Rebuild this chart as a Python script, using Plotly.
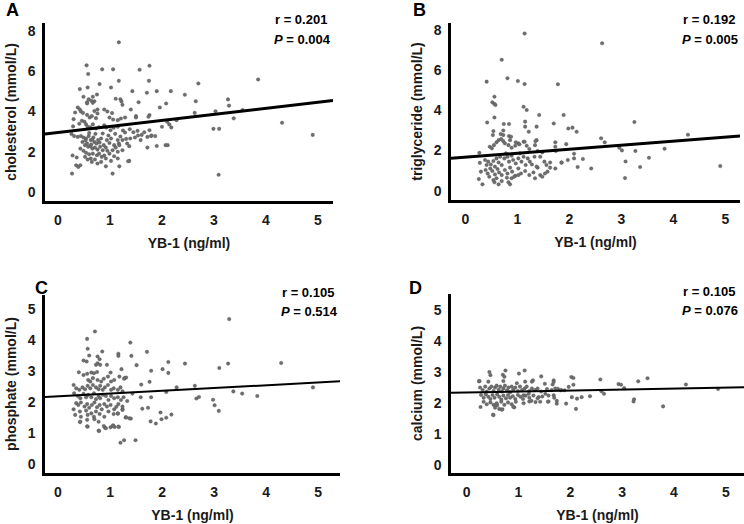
import plotly.graph_objects as go

# ---------------- data ----------------
cholesterol_pts = [
    (1.17,7.42),(0.55,6.28),(0.85,6.08),(1.06,6.08),(1.57,6.06),(1.76,6.26),(0.58,5.85),(1.17,5.51),(0.80,5.35),(1.75,5.51),
    (0.42,5.10),(0.57,5.18),(1.02,5.18),(1.43,5.00),(1.71,4.92),(1.90,5.00),(2.17,5.00),(2.70,5.38),(3.85,5.58),(2.44,4.82),
    (0.49,4.72),(0.67,4.72),(0.75,4.83),(0.56,4.45),(0.59,4.60),(0.64,4.52),(0.67,4.42),(0.56,4.39),(0.70,4.50),(1.11,4.62),
    (1.20,4.60),(1.22,4.49),(1.24,4.32),(1.55,4.45),(2.08,4.39),(2.65,4.50),(3.27,4.59),(3.29,4.28),
    (0.38,4.19),(0.42,4.09),(0.33,3.94),(0.89,4.09),(0.95,3.99),(1.04,3.91),(1.40,4.09),(1.96,4.19),(2.63,3.92),(3.03,4.00),
    (3.55,4.06),(3.38,3.65),(1.50,3.76),(1.76,3.81),
    (0.44,3.99),(0.48,3.92),(0.70,4.01),(0.76,4.09),(0.56,3.82),(0.61,3.69),(0.65,3.76),(0.73,3.66),(0.76,3.89),(0.30,3.61),
    (0.99,3.69),(1.06,3.59),(1.15,3.56),(1.21,3.64),(1.29,3.69),(1.50,3.69),(1.74,3.73),(2.10,3.48),(2.14,3.35),(2.18,3.20),
    (2.28,3.56),(2.00,3.23),(2.99,3.13),(3.10,3.13),(4.31,3.43),(4.90,2.83),
    (0.29,3.25),(0.41,3.38),(0.46,3.53),(0.51,3.48),(0.54,3.35),(0.57,3.23),(0.62,3.21),(0.67,3.35),(0.73,3.15),(0.79,3.21),
    (0.89,3.31),(0.93,3.20),(1.01,3.06),(1.07,3.18),(1.15,3.23),(1.25,3.05),(1.29,2.95),(1.38,3.11),(1.45,2.96),(1.53,3.03),
    (1.61,2.83),(1.66,2.96),(1.76,3.06),(1.79,2.77),(1.87,2.77),
    (0.26,2.87),(0.31,2.77),(0.38,2.73),(0.44,2.77),(0.49,2.70),(0.54,2.65),(0.59,2.77),(0.63,2.57),(0.68,2.70),(0.70,2.48),
    (0.74,2.40),(0.77,2.57),(0.83,2.65),(0.88,2.32),(0.94,2.57),(0.99,2.43),(1.02,2.65),(1.08,2.32),(1.15,2.57),(1.17,2.40),
    (1.24,2.57),(1.31,2.63),(1.33,2.40),(1.39,2.65),(1.48,2.70),(1.59,2.57),(1.72,2.73),
    (0.47,2.48),(0.52,2.32),(0.56,2.40),(0.58,2.24),(0.62,2.27),(0.66,2.15),(0.71,2.20),(0.76,2.10),(0.81,2.24),(0.86,2.07),
    (0.92,2.20),(0.95,2.04),(1.05,2.07),(1.11,2.20),(1.18,2.32),(1.24,2.07),(1.37,2.27),
    (0.43,2.15),(0.49,2.04),(0.54,1.94),(0.60,1.87),(0.67,1.90),(0.75,1.82),(0.79,1.90),(0.84,1.74),(0.89,1.81),(0.99,1.90),
    (1.08,1.77),(1.15,1.99),
    (0.63,1.66),(0.71,1.61),(0.83,1.49),(0.92,1.66),(1.02,1.54),(1.15,1.66),(1.37,1.54),
    (0.28,1.81),(0.36,1.71),(0.52,1.74),(0.57,1.61),(0.65,1.49),(0.76,1.41),
    (0.35,1.32),(0.39,1.24),(0.43,1.32),(0.92,1.27),(1.18,1.27),
    (0.27,0.91),(1.05,0.91),(3.09,0.85),
    (1.54,2.80),(1.72,2.20),(1.80,2.80),(1.90,2.28),(2.07,2.32),(2.11,2.32),(1.35,1.52),
    (0.60,2.92),(0.66,2.60),(0.72,2.88),(0.80,2.45),(0.86,2.90),(0.97,2.80),(1.10,2.88),(1.20,2.75),(0.53,2.55),(0.64,2.35),
]

triglyceride_pts = [
    (1.14,7.83),(2.63,7.34),(0.70,6.52),(0.41,5.43),(0.81,5.60),(1.01,5.46),(1.14,5.31),(1.78,5.30),
    (0.56,4.68),(0.52,4.40),(0.56,4.32),(0.58,4.27),(1.12,4.18),(1.18,4.02),
    (0.56,3.65),(1.42,3.77),(1.89,3.77),(0.42,3.40),(0.74,3.32),(0.84,3.32),(1.15,3.44),(1.70,3.35),(3.25,3.42),
    (0.54,2.97),(0.73,3.00),(1.15,3.19),(1.37,3.19),(1.22,2.94),(1.98,3.10),(2.06,3.14),(2.14,2.94),
    (0.68,2.82),(0.73,2.77),(0.84,2.72),(0.88,2.69),(0.53,2.77),(2.61,2.61),(2.68,2.41),(4.28,2.79),
    (1.02,2.36),(1.12,2.44),(1.37,2.52),(1.73,2.41),(1.94,2.32),(2.96,2.14),(3.01,2.01),(3.27,1.98),(3.83,2.09),(3.53,1.64),
    (2.09,1.84),(1.85,1.40),(1.97,1.53),(2.09,1.61),(2.26,1.58),(2.16,1.18),(2.42,1.11),(3.08,1.46),(3.36,1.18),(3.07,0.63),
    (4.90,1.23),
    (0.27,1.89),(0.47,2.19),(0.51,2.11),(0.55,2.27),(0.60,2.41),(0.64,2.52),(0.69,2.57),(0.73,2.47),(0.76,2.36),(0.86,2.52),
    (0.83,2.27),(0.89,2.14),(0.96,2.24),(0.97,2.41),(1.04,2.31),(1.14,2.44),(1.18,2.24),(1.23,2.08),(1.34,2.27),(1.35,2.47),
    (1.39,1.98),(1.48,1.91),(1.73,2.19),(1.74,1.98),
    (0.28,1.39),(0.30,0.95),(0.26,0.58),(0.33,0.32),
    (0.38,1.53),(0.41,1.28),(0.44,1.45),(0.49,1.31),(0.54,1.48),(0.57,1.20),(0.60,1.61),(0.64,1.41),(0.67,1.69),(0.70,1.28),
    (0.75,1.61),(0.78,1.86),(0.81,1.69),(0.84,1.45),(0.89,1.74),(0.92,1.53),(0.97,1.36),(1.02,1.61),(1.05,1.86),(1.08,1.45),
    (1.12,1.69),(1.16,1.28),(1.20,1.61),(1.24,1.45),(1.28,1.31),(1.33,1.69),(1.39,1.15),(1.44,1.69),(1.52,1.45),(1.56,1.28),
    (1.63,1.41),(1.73,1.11),(1.85,1.41),
    (0.39,1.03),(0.43,0.86),(0.48,1.11),(0.52,0.98),(0.57,0.81),(0.62,1.08),(0.65,0.91),(0.70,0.78),(0.76,1.03),(0.81,0.86),
    (0.86,1.15),(0.90,0.95),(0.96,0.75),(1.02,1.11),(1.07,0.86),(1.15,0.98),(1.23,0.78),(1.31,0.91),(1.37,1.20),(1.44,0.78),
    (1.53,0.86),(1.58,0.95),(1.63,1.15),
    (0.46,0.70),(0.54,0.53),(0.60,0.62),(0.70,0.48),(0.80,0.65),(0.89,0.62),(0.94,0.70),(1.02,0.78),(1.34,0.62),(1.48,0.70),
    (0.56,0.42),(0.64,0.32),(0.83,0.42),(0.86,0.32),
]

phosphate_pts = [
    (3.29,4.68),(0.71,4.28),(0.56,4.04),(1.39,3.92),(0.57,3.72),(1.71,3.62),(0.85,3.63),(1.16,3.56),(1.16,3.49),(1.41,3.49),
    (0.60,3.50),(0.76,3.47),(0.80,3.38),(0.49,3.34),(0.55,3.31),
    (2.12,3.29),(2.44,3.24),(3.27,3.24),(4.29,3.26),(1.51,3.19),(0.73,3.20),(0.76,3.25),(0.81,3.20),(0.94,3.20),(1.22,3.06),
    (3.10,3.10),(2.01,3.06),(1.79,3.01),(2.12,2.94),
    (0.40,2.96),(0.49,2.87),(0.56,2.91),(0.64,2.95),(0.69,2.93),(0.75,2.97),(0.67,2.77),(0.58,2.71),(0.62,2.66),(0.76,2.71),
    (0.83,2.66),(0.88,2.75),(0.96,2.82),(1.01,2.95),(1.02,2.66),(1.08,2.71),(1.18,2.82),(1.28,2.77),(1.31,2.79),(1.27,2.75),
    (1.60,2.56),(1.76,2.65),(2.63,2.52),(2.28,2.47),(1.43,2.27),(2.08,2.32),(3.37,2.34),(3.54,2.27),(3.83,2.19),(4.90,2.47),
    (2.66,2.11),(2.71,2.16),(2.98,2.07),(3.01,1.89),(3.09,1.71),(1.59,2.15),(1.79,2.15),(1.33,2.03),(1.62,1.78),(1.73,1.81),
    (1.97,1.66),(1.99,1.44),(2.08,1.49),(2.18,1.59),(1.78,1.37),(1.88,1.30),(1.40,1.46),(1.30,1.50),(1.15,1.62),(1.12,1.84),
    (1.24,1.76),(1.06,1.24),(1.09,1.19),(1.17,1.19),(0.90,1.17),(0.79,1.06),(0.56,1.21),(0.42,1.35),(1.20,0.68),(1.27,0.76),
    (1.49,0.76),
    (0.30,2.55),(0.35,2.44),(0.41,2.39),(0.47,2.47),(0.52,2.41),(0.57,2.52),(0.62,2.44),(0.67,2.55),(0.73,2.47),(0.78,2.41),
    (0.81,2.52),(0.86,2.39),(0.90,2.47),(0.96,2.55),(1.02,2.39),(1.07,2.44),(1.15,2.39),(1.20,2.47),(1.24,2.34),
    (0.31,2.28),(0.38,2.19),(0.43,2.12),(0.49,2.26),(0.54,2.15),(0.58,2.23),(0.64,2.15),(0.69,2.28),(0.73,2.09),(0.78,2.19),
    (0.81,2.12),(0.86,2.23),(0.92,2.19),(0.97,2.06),(1.02,2.19),(1.08,2.12),(1.15,2.15),(1.21,2.06),(1.26,2.15),
    (0.35,1.96),(0.39,1.90),(0.44,1.98),(0.51,1.85),(0.56,1.93),(0.60,1.81),(0.65,1.90),(0.70,1.98),(0.75,1.83),(0.80,1.90),
    (0.84,1.76),(0.89,1.93),(0.94,1.85),(1.01,1.90),(1.08,1.76),(1.16,1.93),(1.24,1.85),
    (0.30,1.76),(0.42,1.69),(0.54,1.72),(0.57,1.58),(0.64,1.63),(0.69,1.52),(0.73,1.69),(0.80,1.61),(0.89,1.52),(0.97,1.69),
    (1.07,1.61),(1.15,1.63),(1.24,1.74),(1.31,1.50),(1.37,1.47),
    (0.33,1.58),(0.44,1.52),(0.56,1.42),(0.70,1.44),(0.78,1.36),(0.88,1.22),(1.01,1.18),(1.16,1.20),(0.57,1.20),(0.43,1.36),
    (0.78,1.07),(0.92,1.15),(1.05,1.22),
]

calcium_pts = [
    (0.24,2.71),(0.27,1.88),(0.44,3.01),(0.51,1.63),(0.70,2.92),(0.75,3.06),(1.01,2.96),(1.12,3.06),(1.28,2.74),(1.44,2.87),
    (1.51,2.63),(1.68,2.74),(1.68,2.69),(2.02,2.85),(2.06,2.82),(2.06,2.60),(1.97,2.53),(1.76,2.47),(1.82,2.42),(1.89,2.42),
    (1.52,2.31),(1.68,2.26),(1.58,2.06),(1.74,1.99),(1.92,1.99),(2.03,2.20),(2.13,2.15),(2.22,2.20),(2.38,2.23),(2.11,1.82),
    (2.58,2.77),(2.60,2.39),(2.65,2.31),(2.93,2.62),(2.98,2.60),(3.04,2.49),(3.22,2.06),(3.23,2.13),(3.31,2.71),(3.49,2.81),
    (3.79,1.90),(4.23,2.61),(4.85,2.46),(1.39,2.20),(1.33,2.04),(1.21,2.06),(1.10,2.26),(0.92,1.87),(0.69,1.81),(0.59,1.94),
    (1.20,2.31),
    (0.46,2.91),(0.25,2.72),(0.42,2.70),(0.73,2.86),(0.71,2.72),(0.97,2.65),(1.13,2.70),(1.26,2.70),(1.66,2.61),
    (0.26,2.51),(0.31,2.43),(0.36,2.54),(0.39,2.38),(0.44,2.48),(0.48,2.54),(0.52,2.40),(0.55,2.51),(0.58,2.57),(0.62,2.44),
    (0.65,2.54),(0.68,2.38),(0.71,2.48),(0.74,2.57),(0.78,2.42),(0.81,2.51),(0.84,2.36),(0.87,2.54),(0.90,2.44),(0.94,2.51),
    (0.99,2.40),(1.03,2.54),(1.07,2.43),(1.12,2.48),(1.16,2.54),(1.21,2.40),(1.26,2.48),(1.32,2.43),(1.37,2.48),(1.44,2.38),
    (1.55,2.46),(1.64,2.43),(1.71,2.48),(1.82,2.43),
    (0.28,2.27),(0.33,2.18),(0.37,2.29),(0.42,2.21),(0.46,2.14),(0.50,2.27),(0.54,2.18),(0.59,2.29),(0.63,2.21),(0.67,2.12),
    (0.71,2.25),(0.76,2.16),(0.80,2.27),(0.84,2.18),(0.89,2.23),(0.94,2.14),(0.99,2.27),(1.04,2.21),(1.09,2.14),(1.14,2.25),
    (1.21,2.18),(1.29,2.25),(1.37,2.16),(1.46,2.22),(1.58,2.25),(1.69,2.18),
    (0.33,2.05),(0.39,1.97),(0.46,2.03),(0.52,1.95),(0.58,2.00),(0.67,2.05),(0.73,1.95),(0.80,2.03),(0.87,1.97),(0.95,2.05),
    (1.10,2.00),(1.25,2.08),(1.42,2.05),(1.57,2.05),(1.74,2.08),
    (0.55,1.86),(0.63,1.82),(0.68,1.79),(0.90,1.89),(0.52,1.62),
]

# regression lines: (intercept, slope)
fit_params = {"A": (2.95, 0.30), "B": (1.67, 0.20), "C": (2.18, 0.09), "D": (2.35, 0.032)}
stats_r = {"A": "0.201", "B": "0.192", "C": "0.105", "D": "0.105"}
stats_p = {"A": "0.004", "B": "0.005", "C": "0.514", "D": "0.076"}
y_titles = {"A": "cholesterol (mmol/L)", "B": "triglyceride (mmol/L)",
            "C": "phosphate (mmol/L)", "D": "calcium (mmol/L)"}
x_title = "YB-1 (ng/ml)"
x_ticks = [0, 1, 2, 3, 4, 5]
y_ticks_top = [0, 2, 4, 6, 8]
y_ticks_bottom = [0, 1, 2, 3, 4, 5]

# ---------------- layout geometry ----------------
W, H = 744, 524
FONT = "Liberation Sans, Arial, sans-serif"

panels = {
    # name: (points, px left, px right, px top, px bottom, xrange, yrange, yticks, line width)
    "A": (cholesterol_pts, 45, 333, 23, 201, [-0.25, 5.29], [-0.45, 8.38], y_ticks_top, 3),
    "B": (triglyceride_pts, 451, 740, 23, 200, [-0.275, 5.28], [-0.46, 8.35], y_ticks_top, 3),
    "C": (phosphate_pts, 45, 340, 295, 473, [-0.25, 5.42], [-0.30, 5.46], y_ticks_bottom, 2),
    "D": (calcium_pts, 451, 744, 294, 473, [-0.30, 5.35], [-0.25, 5.53], y_ticks_bottom, 2),
}
letter_pos = {"A": (12, 10), "B": (419, 10), "C": (41, 288), "D": (416, 288)}

fig = go.Figure()
annotations = []
for i, (name, (pts, l, r, t, b, xr, yr, yt, lw)) in enumerate(panels.items()):
    n = "" if i == 0 else str(i + 1)
    xs = [p[0] for p in pts]
    ys = [p[1] for p in pts]
    fig.add_trace(go.Scatter(
        x=xs, y=ys, mode="markers", xaxis="x" + n, yaxis="y" + n,
        marker=dict(size=3.6, color="#6e6e6e", line=dict(width=0.3, color="#4a4a4a")),
        showlegend=False, hoverinfo="skip"))
    b0, b1 = fit_params[name]
    fig.add_trace(go.Scatter(
        x=[xr[0], xr[1]], y=[b0 + b1 * xr[0], b0 + b1 * xr[1]], mode="lines",
        xaxis="x" + n, yaxis="y" + n, line=dict(color="black", width=lw),
        showlegend=False, hoverinfo="skip"))
    axis_common = dict(showline=True, linecolor="black", linewidth=2.5, showgrid=False,
                       zeroline=False, ticks="", ticklabelstandoff=4,
                       tickfont=dict(family=FONT, size=14, color="#1a1a1a", weight="bold"))
    fig.update_layout(**{
        "xaxis" + n: dict(domain=[l / W, r / W], range=xr, anchor="y" + n,
                          tickvals=x_ticks,
                          title=dict(text=x_title, standoff=12,
                                     font=dict(family=FONT, size=14, color="#1a1a1a", weight="bold")),
                          **axis_common),
        "yaxis" + n: dict(domain=[1 - b / H, 1 - t / H], range=yr, anchor="x" + n,
                          tickvals=yt,
                          title=dict(text=y_titles[name], standoff=8,
                                     font=dict(family=FONT, size=14, color="#1a1a1a", weight="bold")),
                          **axis_common),
    })
    lx, ly = letter_pos[name]
    annotations.append(dict(text="<b>%s</b>" % name, x=lx / W, y=1 - ly / H, xref="paper", yref="paper",
                            xanchor="center", yanchor="middle", showarrow=False,
                            font=dict(family=FONT, size=18, color="black")))
    annotations.append(dict(text="<b>r = %s</b>" % stats_r[name], x=(r - 4 if r < 740 else 737) / W,
                            y=1 - (t - 3) / H, xref="paper", yref="paper",
                            xanchor="right", yanchor="middle", showarrow=False,
                            font=dict(family=FONT, size=13, color="black")))
    annotations.append(dict(text="<b><i>P</i> = %s</b>" % stats_p[name], x=(r if r < 740 else 740) / W,
                            y=1 - (t + 16) / H, xref="paper", yref="paper",
                            xanchor="right", yanchor="middle", showarrow=False,
                            font=dict(family=FONT, size=13, color="black")))

fig.update_layout(width=W, height=H, margin=dict(l=0, r=0, t=0, b=0),
                  paper_bgcolor="white", plot_bgcolor="white", annotations=annotations,
                  font=dict(family=FONT))
fig.write_html("out.html")
